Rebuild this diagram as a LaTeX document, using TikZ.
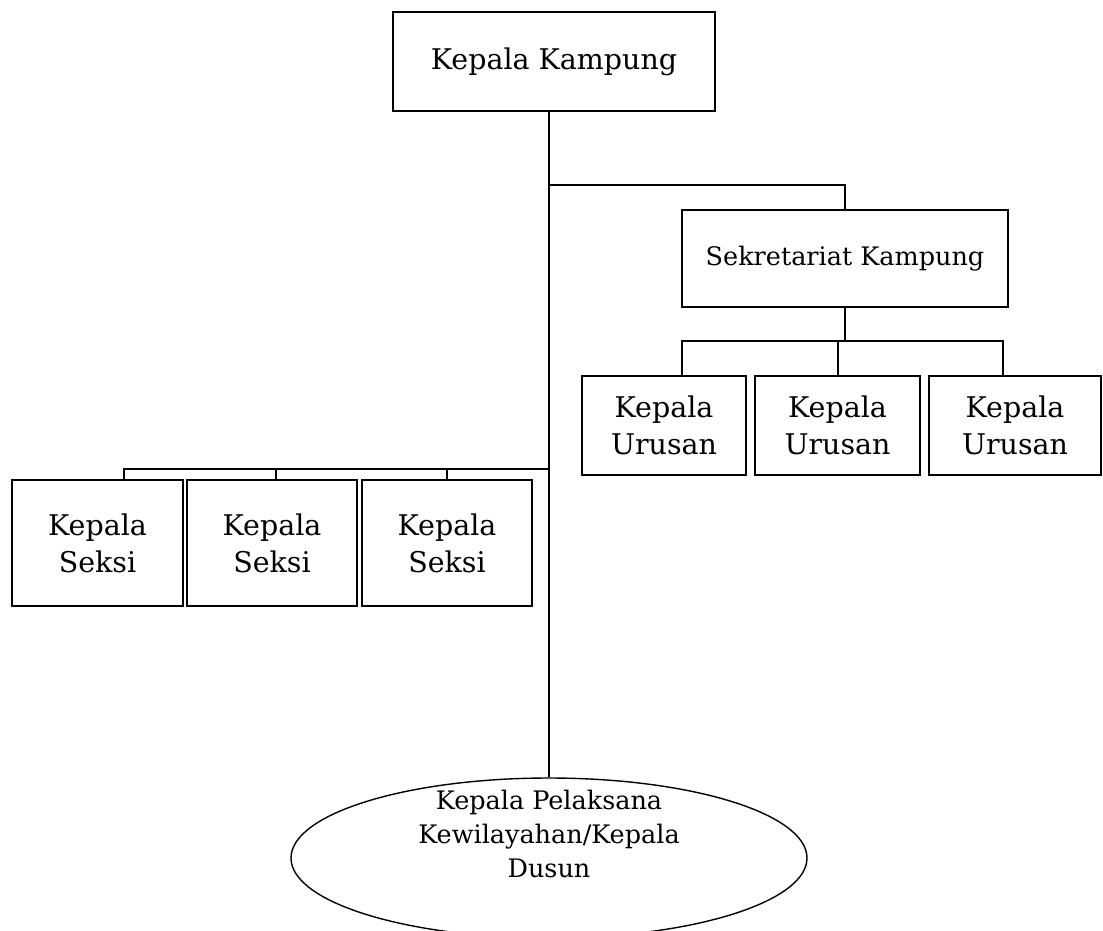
\documentclass[tikz,border=0pt]{standalone}
\usepackage{fontspec}
\setmainfont{DejaVu Serif}
\usetikzlibrary{shapes.geometric}

\begin{document}
\begin{tikzpicture}[x=1pt,y=-1pt,
    unit/.style={draw,line width=1.4pt,inner sep=0pt,align=center},
    bigtext/.style={font=\fontsize{28.5}{37}\selectfont},
    smalltext/.style={font=\fontsize{25.5}{34}\selectfont},
    link/.style={line width=2pt}]
      \clip (0,0) rectangle (1103,930);
      \useasboundingbox (0,0) rectangle (1103,930);
      \draw
        (554,61.5) node[unit,bigtext,minimum width=322,minimum height=99] (kampung){Kepala Kampung}
        (845,258.5) node[unit,smalltext,minimum width=326,minimum height=97] (sekretariat){Sekretariat Kampung}
        (664,425.5) node[unit,bigtext,minimum width=164,minimum height=99] (urusan1){Kepala\\Urusan}
        (837.5,425.5) node[unit,bigtext,minimum width=165,minimum height=99] (urusan2){Kepala\\Urusan}
        (1015,425.5) node[unit,bigtext,minimum width=172,minimum height=99] (urusan3){Kepala\\Urusan}
        (97.5,543) node[unit,bigtext,minimum width=171,minimum height=126] (seksi1){Kepala\\Seksi}
        (272,543) node[unit,bigtext,minimum width=170,minimum height=126] (seksi2){Kepala\\Seksi}
        (447,543) node[unit,bigtext,minimum width=170,minimum height=126] (seksi3){Kepala\\Seksi}
        (549,858) node[draw,ellipse,line width=1.4pt,minimum width=516,minimum height=160] (dusun){}
        (549,834) node[smalltext,align=center] (dusuntext){Kepala Pelaksana\\Kewilayahan/Kepala\\Dusun};
      \coordinate (cabang) at (549,185);
      \coordinate (baruru) at (549,341);
      \coordinate (barseksi) at (549,469);
      \begin{scope}[link]
        \draw (kampung.south -| dusun.north) -- (dusun.north);
        \draw (cabang) -| (sekretariat.north);
        \draw (sekretariat.south) -- (sekretariat.south |- baruru);
        \draw ([xshift=18pt]urusan1.north) |- ([xshift=-12pt]urusan3.north |- baruru) -- ([xshift=-12pt]urusan3.north);
        \draw (urusan2.north) -- (urusan2.north |- baruru);
        \draw (barseksi) -- ([xshift=26.5pt]seksi1.north |- barseksi) -- ([xshift=26.5pt]seksi1.north);
        \draw ([xshift=4pt]seksi2.north |- barseksi) -- ([xshift=4pt]seksi2.north);
        \draw (seksi3.north |- barseksi) -- (seksi3.north);
      \end{scope}
    \end{tikzpicture}
\end{document}
